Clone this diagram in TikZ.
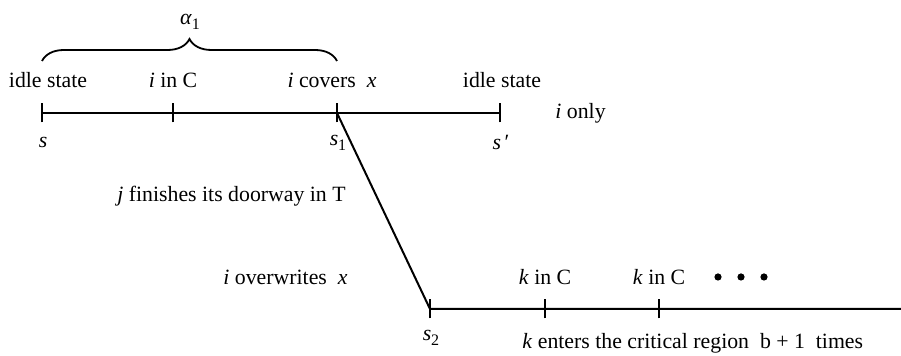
\documentclass[tikz,border=0pt]{standalone}
\usepackage{fontspec}
\setmainfont{Liberation Serif}
\usetikzlibrary{decorations.pathreplacing}
\newcommand{\sub}[2]{\textit{#1}\raisebox{-0.45ex}{\fontsize{8}{9}\selectfont #2}}
\begin{document}
\begin{tikzpicture}[x=0.5pt,y=-0.5pt,
  lbl/.style={inner sep=0pt,font=\fontsize{10.9}{13}\selectfont},
  tl/.style={line width=1pt},
  tick/.style={line width=1pt}]
\useasboundingbox (0,0) rectangle (901,356);
% timelines
\coordinate (s) at (42,113);
\coordinate (c) at (173,113);
\coordinate (s1) at (337,113);
\coordinate (sp) at (500,113);
\coordinate (s2) at (430,309);
\coordinate (k1) at (545,309);
\coordinate (k2) at (659,309);
\coordinate (e) at (901,309);
\draw[tl] (s) -- (sp);
\draw[tl] (s1) -- (s2) -- (e);
\foreach \p in {s,c,s1,sp,s2,k1,k2}
  \draw[tick] ([yshift=-4.75pt]\p) -- ([yshift=5pt]\p);
% brace
\draw[line width=0.9pt,decorate,decoration={brace,amplitude=11pt}] (42,61) -- (337,61) coordinate[midway] (bm);
\node[lbl] (alpha) at (190,22) {\sub{α}{1}};
% labels top
\node[lbl] (idle1) at (48,80) {idle state};
\node[lbl] (inc) at (173,80) {\textit{i} in C};
\node[lbl] (cov) at (332,80) {\textit{i} covers~ \textit{x}};
\node[lbl] (idle2) at (502,80) {idle state};
\node[lbl,anchor=west] (only) at (555,113) {\textit{i} only};
\node[lbl] (ls) at (43,142) {\textit{s}};
\node[lbl] (ls1) at (338,143) {\sub{s}{1}};
\node[lbl] (lsp) at (501,142) {\textit{s}\,′};
% middle
\node[lbl,anchor=west] (doorway) at (117,196) {\textit{j} finishes its doorway in T};
\node[lbl,anchor=west] (over) at (223,277) {\textit{i} overwrites~ \textit{x}};
% bottom
\node[lbl] (kc1) at (545,277) {\textit{k} in C};
\node[lbl] (kc2) at (659,277) {\textit{k} in C};
\foreach \xx [count=\n] in {718,741,764}
  \fill (\xx,277) circle (1.8pt) coordinate (dot\n);
\node[lbl] (ls2) at (431,338) {\sub{s}{2}};
\node[lbl,anchor=west] (enters) at (522,343) {\textit{k} enters the critical region~ b + 1~ times};
\end{tikzpicture}
\end{document}
